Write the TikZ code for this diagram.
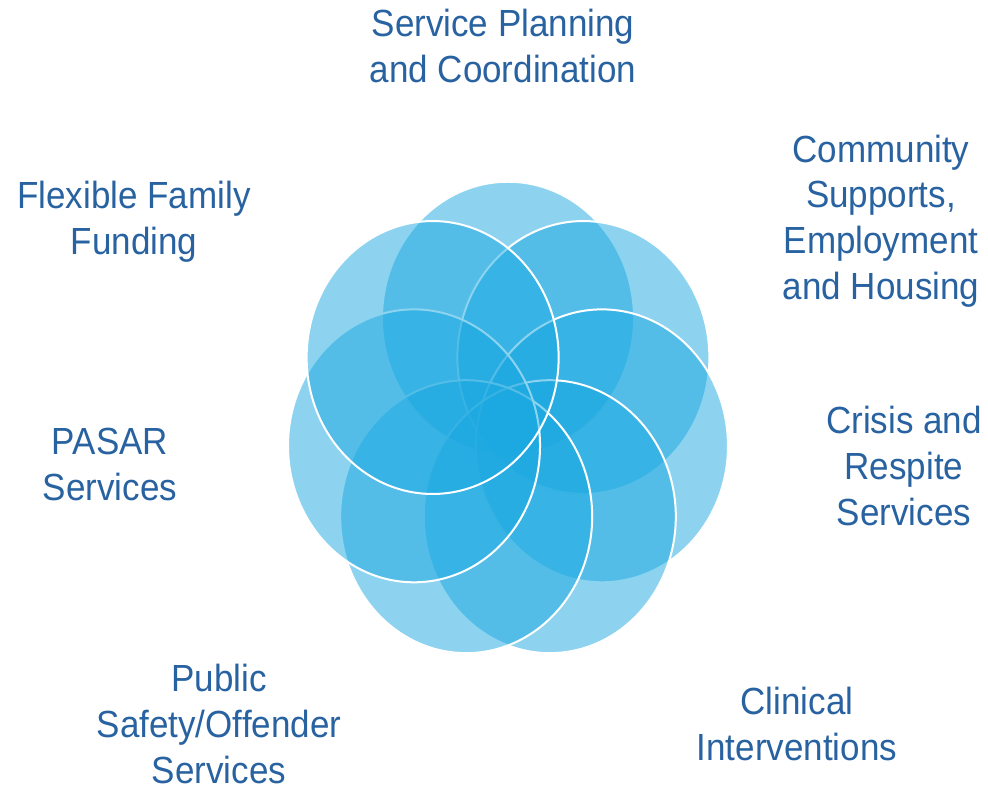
\documentclass[tikz,border=0pt]{standalone}
\usepackage{fontspec}
\setmainfont{Liberation Sans}
\newfontfamily\lblfont[FakeStretch=0.926]{Liberation Sans}
\definecolor{petalblue}{RGB}{27,168,225}
\definecolor{labelblue}{RGB}{40,98,160}
\tikzset{
	petal/.style={fill=petalblue, fill opacity=0.5, draw=white, line width=2pt},
	lbl/.style={text=labelblue, font=\lblfont\fontsize{37.8}{46}\selectfont, align=center, anchor=base, inner sep=0pt, text depth=0pt}
}
\begin{document}
\begin{tikzpicture}[x=1pt,y=-1pt]
	\useasboundingbox (0,0) rectangle (988,786);
	% Petals, clockwise from the top (y runs downwards)
	\begin{scope}[shift={(508,422.6)}, yscale=1.083]
		\foreach \ang in {-90,-38.57,12.86,64.29,115.71,167.14,-141.43}
			\draw[petal] (\ang:96.4) circle (126);
	\end{scope}
	% Labels, placed by the baseline of their last line
	\node[lbl] (planning) at (503,83) {Service Planning\\and Coordination};
	\node[lbl] (community) at (881,300) {Community\\Supports,\\Employment\\and Housing};
	\node[lbl] (crisis) at (904,525) {Crisis and\\Respite\\Services};
	\node[lbl] (clinical) at (797,760) {Clinical\\Interventions};
	\node[lbl] (safety) at (219,783) {Public\\Safety/Offender\\Services};
	\node[lbl] (pasar) at (110,500) {PASAR\\Services};
	\node[lbl] (funding) at (134,255) {Flexible Family\\Funding};
\end{tikzpicture}
\end{document}
